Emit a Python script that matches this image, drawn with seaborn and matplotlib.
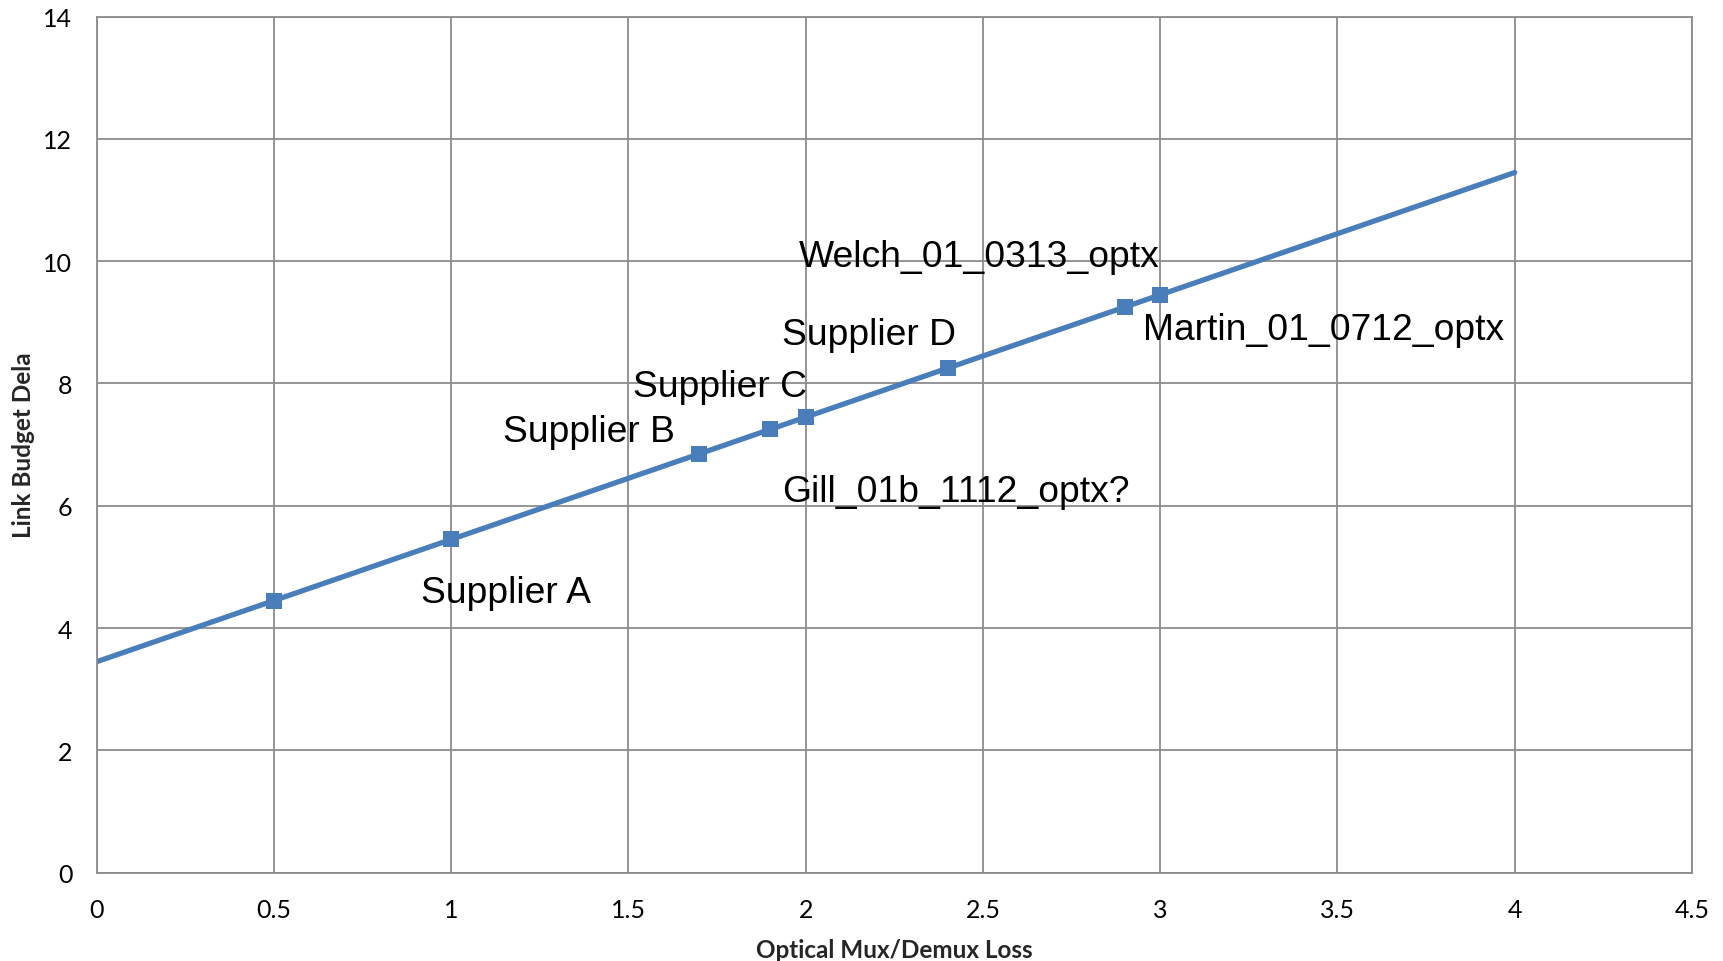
import numpy as np
import matplotlib
matplotlib.use('Agg')
import matplotlib.pyplot as plt
import seaborn as sns

# line through the whole range
line_x = [0, 4]
line_y = [3.45, 11.45]

# measured points
pts_x = [0.5, 1.0, 1.7, 1.9, 2.0, 2.4, 2.9, 3.0]
pts_y = [4.45, 5.45, 6.85, 7.25, 7.45, 8.25, 9.25, 9.45]

labels = ['Supplier A', 'Supplier B', 'Supplier C', 'Supplier D',
          'Gill_01b_1112_optx?', 'Welch_01_0313_optx', 'Martin_01_0712_optx']
label_x = [0.915, 1.147, 1.513, 1.934, 1.934, 1.981, 2.952]
label_y = [4.58, 7.22, 7.95, 8.80, 6.23, 10.08, 8.89]

sns.set_style('white')
plt.rcParams['font.family'] = ['Lato', 'DejaVu Sans']

blue = '#4a7ebb'
grey = '#8c8c8c'

fig = plt.figure(figsize=(17.23, 9.62), dpi=100)
ax = fig.add_axes([0.0561, 0.0918, 0.9259, 0.8899])

sns.lineplot(x=line_x, y=line_y, ax=ax, color=blue, linewidth=3.8)
sns.scatterplot(x=pts_x, y=pts_y, ax=ax, color=blue, marker='s', s=140,
                edgecolor=blue, linewidth=0, zorder=5)

for t, lx, ly in zip(labels, label_x, label_y):
    ax.text(lx, ly, t, fontsize=26.8, family='Liberation Sans',
            ha='left', va='center', color='black', zorder=6)

ax.set_xlim(0, 4.5)
ax.set_ylim(0, 14)
ax.set_xticks(np.arange(0, 4.51, 0.5))
ax.set_yticks(np.arange(0, 14.1, 2))
ax.set_xticklabels(['0', '0.5', '1', '1.5', '2', '2.5', '3', '3.5', '4', '4.5'])
ax.grid(True, color=grey, linewidth=1.3)
ax.set_axisbelow(True)
for s in ax.spines.values():
    s.set_color(grey)
    s.set_linewidth(1.3)
ax.tick_params(axis='both', which='both', direction='out', length=6.5,
               width=1.3, color=grey, labelsize=18, labelcolor='black', pad=11)
ax.tick_params(axis='x', pad=12)

ax.set_xlabel('Optical Mux/Demux Loss', fontsize=17.5, fontweight='bold', labelpad=12)
ax.set_ylabel('Link Budget Dela', fontsize=17.5, fontweight='bold', labelpad=6)

fig.savefig('out.png', dpi=100)
